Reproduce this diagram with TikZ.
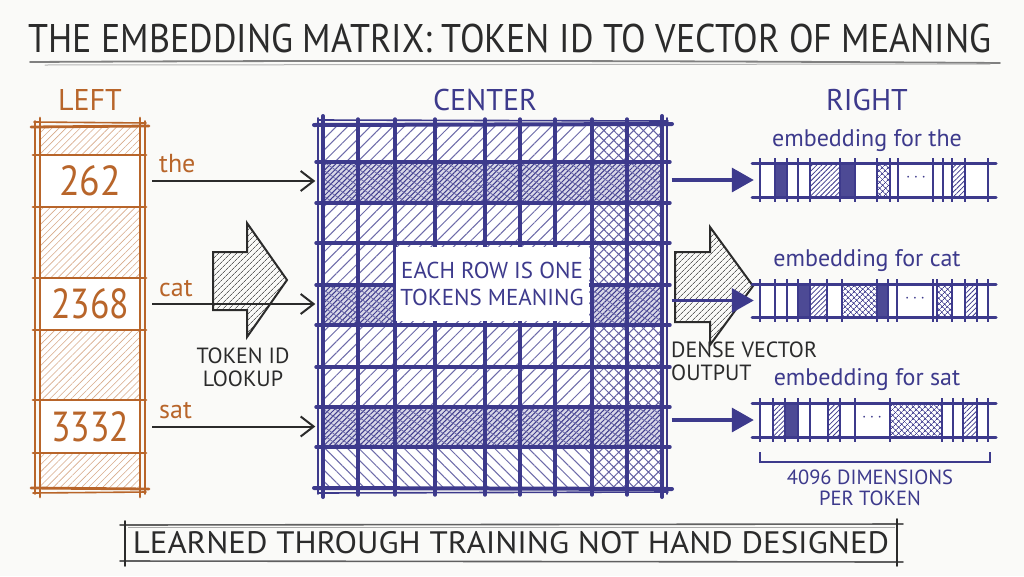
\documentclass[tikz,border=0pt]{standalone}
\usepackage{graphicx}
\usepackage{fontspec}
\setmainfont{PT Sans}
\usetikzlibrary{patterns.meta,arrows.meta,calc}
\definecolor{bgc}{HTML}{FAFAF8}
\definecolor{orng}{HTML}{B8652A}
\definecolor{ink}{HTML}{3D3A8C}
\definecolor{pen}{HTML}{2B2B2B}
\begin{document}
\begin{tikzpicture}[x=1pt,y=-1pt,
  fs/.style={font=\fontsize{#1pt}{#1pt}\selectfont},
  txt/.style={inner sep=0pt, text=#1},
  thinarr/.style={draw=pen, line width=2pt, -{Straight Barb[length=13pt,width=20pt,line width=2pt]}},
  bluearr/.style={draw=ink, line width=3.4pt, -{Triangle[length=22pt,width=24pt]}},
  ohatch/.style={pattern={Lines[angle=45,distance=5pt,line width=0.6pt]}, pattern color=orng!55},
  msparse/.style={pattern={Lines[angle=45,distance=8pt,line width=1pt]}, pattern color=ink!75},
  mback/.style={pattern={Lines[angle=-45,distance=8pt,line width=1pt]}, pattern color=ink!75},
  mcross/.style={pattern={Hatch[angle=45,distance=7pt,line width=1pt]}, pattern color=ink!80},
  mdense/.style={pattern={Lines[angle=45,distance=3.6pt,line width=1pt]}, pattern color=ink},
  mdense2/.style={pattern={Lines[angle=-35,distance=7pt,line width=0.8pt]}, pattern color=ink!75},
  gridl/.style={draw=ink, line width=3.4pt, line cap=round},
  vw/.style={},
  vd/.style={fill=ink!92},
  vh/.style={pattern={Lines[angle=45,distance=3.5pt,line width=0.8pt]}, pattern color=ink},
  vc/.style={pattern={Hatch[angle=45,distance=4pt,line width=0.8pt]}, pattern color=ink},
  garrow/.style={draw=pen, line width=2pt, line join=miter, pattern={Lines[angle=45,distance=4pt,line width=0.7pt]}, pattern color=pen!75},
]
\fill[bgc] (0,0) rectangle (1024,576);
\useasboundingbox (0,0) rectangle (1024,576);

% ---------- title ----------
\node[txt=pen, fs=40] (title) at (510,38) {\scalebox{0.9}[1]{THE EMBEDDING MATRIX: TOKEN ID TO VECTOR OF MEANING}};
\draw[pen!60, line width=1.8pt, line cap=round] (30,62) .. controls (400,60) and (700,61) .. (1000,63);
\draw[pen!35, line width=1pt, line cap=round] (45,65) -- (990,64);

% ---------- section headers ----------
\node[txt=orng, fs=30] (hleft) at (90,100) {LEFT};
\node[txt=ink, fs=30] (hcenter) at (485,100) {CENTER};
\node[txt=ink, fs=30] (hright) at (867,100) {RIGHT};

% ---------- left column ----------
\fill[white] (40,127) rectangle (140,488);
\foreach \a/\b in {127/155,207/278,330/400,453/488}
  \path[ohatch] (40,\a) rectangle (140,\b);
\node[txt=orng, fs=42, minimum width=110pt, minimum height=48pt] (c262) at (90,181) {\scalebox{0.9}[1]{262}};
\node[txt=orng, fs=42, minimum width=110pt, minimum height=48pt] (c2368) at (90,304) {\scalebox{0.85}[1]{2368}};
\node[txt=orng, fs=42, minimum width=110pt, minimum height=48pt] (c3332) at (90,426.5) {\scalebox{0.85}[1]{3332}};
\foreach \y in {155,207,278,330,400,453}
  \draw[orng, line width=2.8pt, line cap=round] (33,\y) -- (146,\y);
\draw[orng, line width=2.8pt, line cap=round] (31,127) -- (149,126) (31,488) -- (149,489);
\draw[orng, line width=1.6pt, line cap=round] (34,122) -- (146,123) (33,493) -- (146,492);
\draw[orng, line width=2.8pt, line cap=round] (40,118) -- (40,497) (140,118) -- (140,497);
\draw[orng, line width=1.8pt, line cap=round] (35,121) -- (35,494) (145,121) -- (145,494);

% ---------- block arrows ----------
\draw[garrow] (213,252) -- (247,252) -- (247,223) -- (287,280) -- (247,337) -- (247,310) -- (213,310) -- cycle;
\draw[garrow] (675,252) -- (710,252) -- (710,227) -- (753,286) -- (710,345) -- (710,322) -- (675,322) -- cycle;
\node[txt=pen, fs=22, align=center] (lookup) at (243,367) {TOKEN ID\\[1pt]LOOKUP};
\node[txt=pen, fs=22, align=left, anchor=west] (dense) at (671,361) {DENSE VECTOR\\[1pt]OUTPUT};

% ---------- matrix ----------
\fill[white] (323,125) rectangle (662,488);
\path[msparse] (323,125) rectangle (592,447);
\path[mback] (323,447) rectangle (592,488);
\path[mcross] (592,125) rectangle (662,488);
\foreach \a/\b/\c/\d in {323/162/662/203, 323/407/662/447, 323/285/395/325, 592/285/662/325}{
  \fill[ink!20] (\a,\b) rectangle (\c,\d);
  \path[mdense] (\a,\b) rectangle (\c,\d);
  \path[mdense2] (\a,\b) rectangle (\c,\d);
}
\foreach \x in {358,395,435,485,520,555,592,627}
  \draw[gridl] (\x,119) -- (\x,495);
\foreach \y in {162,203,243,285,325,367,407,447}
  \draw[gridl] (316,\y) -- (670,\y);
\draw[ink, line width=4pt, line cap=round] (314,125) -- (672,124) (314,488) -- (672,489);
\draw[ink, line width=1.6pt, line cap=round] (318,120) -- (668,121) (318,493) -- (668,492);
\draw[ink, line width=4pt, line cap=round] (323,116) -- (323,497) (662,116) -- (662,497);
\draw[ink, line width=1.6pt, line cap=round] (318,118) -- (318,494) (667,118) -- (667,494);
\node[inner sep=0pt, minimum width=338pt, minimum height=363pt] (mat) at (492.5,306.5) {};
\node[fill=white, txt=ink, fs=23, align=center, minimum width=193pt, minimum height=74pt] (lab) at (492,284)
  {EACH ROW IS ONE\\[4pt]TOKENS MEANING};

% ---------- token labels and arrows ----------
\node[txt=orng, fs=26, anchor=base west] (wthe) at (159,172) {the};
\node[txt=orng, fs=26, anchor=base west] (wcat) at (159,296) {cat};
\node[txt=orng, fs=26, anchor=base west] (wsat) at (159,418) {sat};
\draw[thinarr] ([xshift=7pt]c262.east) -- ([xshift=-8pt]c262.east -| mat.west);
\draw[thinarr] ([xshift=7pt]c2368.east) -- ([xshift=-8pt]c2368.east -| mat.west);
\draw[thinarr] ([xshift=7pt]c3332.east) -- ([xshift=-8pt]c3332.east -| mat.west);

% ---------- vectors ----------
\node[inner sep=0pt, minimum width=228pt, minimum height=34pt] (v1) at (874,180) {};
\node[inner sep=0pt, minimum width=228pt, minimum height=33pt] (v2) at (874,300.5) {};
\node[inner sep=0pt, minimum width=228pt, minimum height=34pt] (v3) at (874,420) {};

\fill[white] (760,163) rectangle (988,197) (760,284) rectangle (988,317) (760,403) rectangle (988,437);
% vector 1
\foreach \a/\b/\t in {760/775/vw,775/787/vd,787/798/vw,798/810/vw,810/840/vh,840/855/vd,855/877/vw,877/890/vc,890/898/vw,898/933/vw,933/943/vw,943/952/vw,952/965/vh,965/988/vw}{
  \path[\t] (\a,163) rectangle (\b,197);
  \draw[ink, line width=2.2pt] (\a,158) -- (\a,202);
}
% vector 2
\foreach \a/\b/\t in {760/775/vw,775/787/vw,787/798/vw,798/810/vd,810/827/vh,827/842/vw,842/877/vc,877/888/vd,888/897/vw,897/933/vw,933/937/vw,937/952/vc,952/965/vw,965/977/vh,977/988/vw}{
  \path[\t] (\a,284) rectangle (\b,317);
  \draw[ink, line width=2.2pt] (\a,279) -- (\a,322);
}
% vector 3
\foreach \a/\b/\t in {760/773/vw,773/785/vh,785/798/vd,798/810/vw,810/828/vw,828/840/vh,840/855/vw,855/890/vw,890/942/vc,942/953/vw,953/963/vw,963/977/vh,977/988/vw}{
  \path[\t] (\a,403) rectangle (\b,437);
  \draw[ink, line width=2.2pt] (\a,398) -- (\a,442);
}
\foreach \y in {163,197,284,317,403,437}
  \draw[ink, line width=3pt, line cap=round] (752,\y) -- (996,\y);
\draw[ink, line width=2.2pt] (988,158) -- (988,202) (988,279) -- (988,322) (988,398) -- (988,442);
\node[txt=ink, fs=18] (dots1) at (916,178) {$\cdots$};
\node[txt=ink, fs=18] (dots2) at (915,299) {$\cdots$};
\node[txt=ink, fs=18] (dots3) at (872,418) {$\cdots$};

\node[txt=ink, fs=24] (e1) at (867,141) {embedding for the};
\node[txt=ink, fs=24] (e2) at (867,261) {embedding for cat};
\node[txt=ink, fs=24] (e3) at (867,380) {embedding for sat};

\draw[bluearr] ([xshift=10pt]mat.east |- v1.west) -- ([xshift=-6pt]v1.west);
\draw[bluearr] ([xshift=10pt]mat.east |- v2.west) -- ([xshift=-6pt]v2.west);
\draw[bluearr] ([xshift=10pt]mat.east |- v3.west) -- ([xshift=-6pt]v3.west);

\draw[ink, line width=1.6pt] (760,452) -- (760,462) -- (990,462) -- (990,452);
\node[txt=ink, fs=20.5, align=center] (dims) at (870,488) {4096 DIMENSIONS\\[1pt]PER TOKEN};

% ---------- bottom box ----------
\node[txt=pen, fs=31, minimum width=772pt, minimum height=36pt] (bottom) at (511,543)
  {\scalebox{1.06}[1]{LEARNED THROUGH TRAINING NOT HAND DESIGNED}};
\draw[pen!75, line width=1.6pt, line cap=round] (120,525) -- (903,524) (120,561) -- (903,562);
\draw[pen!40, line width=1pt] (128,527) -- (895,527);
\draw[pen, line width=1.8pt, line cap=round] (125,521) -- (125,566) (897,519) -- (897,566);
\end{tikzpicture}
\end{document}
